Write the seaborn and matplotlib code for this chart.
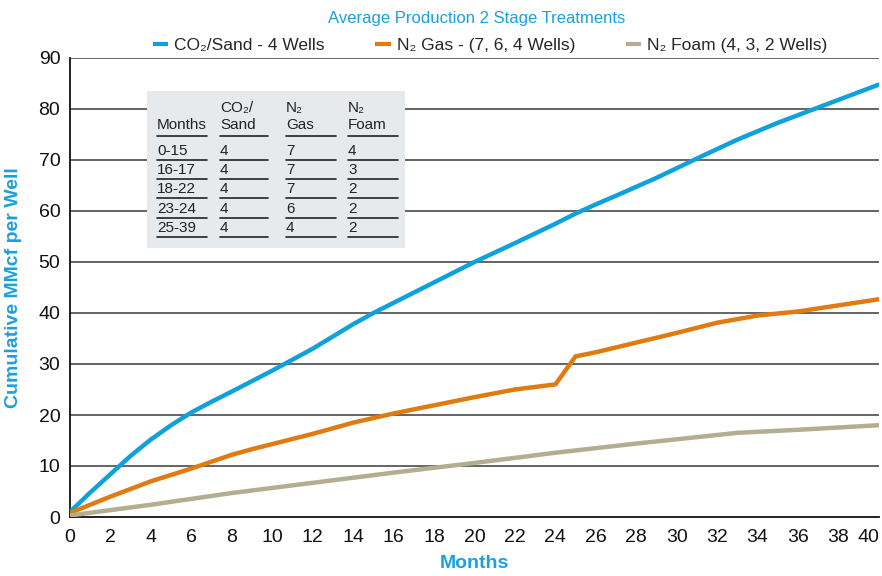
import numpy as np
import pandas as pd
import matplotlib
matplotlib.use("Agg")
import matplotlib.pyplot as plt
from matplotlib.lines import Line2D
from matplotlib.patches import Rectangle
import seaborn as sns

# ---- data ----
co2_months = [0, 1, 2, 3, 4, 5, 6, 7, 8, 10, 12, 14, 15, 16, 18, 20, 22, 24, 25, 26, 27, 29, 31, 33, 35, 36, 38, 40]
co2_values = [1, 4.8, 8.4, 12, 15.2, 18, 20.5, 22.6, 24.6, 28.7, 33, 37.8, 40, 42, 46, 50, 53.7, 57.5, 59.5, 61.3, 63, 66.5, 70.3, 74, 77.3, 78.8, 81.8, 84.8]

n2gas_months = [0, 2, 4, 6, 8, 9, 10, 12, 14, 16, 18, 20, 22, 24, 25, 26, 28, 30, 32, 34, 36, 38, 40]
n2gas_values = [0.8, 4, 7, 9.5, 12.2, 13.3, 14.3, 16.3, 18.5, 20.3, 21.9, 23.5, 25, 26, 31.5, 32.3, 34.2, 36.1, 38.1, 39.5, 40.3, 41.5, 42.7]

n2foam_months = [0, 4, 8, 10, 16, 20, 24, 28, 33, 36, 40]
n2foam_values = [0.3, 2.4, 4.7, 5.7, 8.7, 10.6, 12.6, 14.4, 16.5, 17.1, 18]

series_labels = ["CO\u2082/Sand - 4 Wells", "N\u2082 Gas - (7, 6, 4 Wells)", "N\u2082 Foam (4, 3, 2 Wells)"]
series_colors = ["#0ea1dc", "#e07b12", "#b4ae90"]

x_ticks = list(range(0, 41, 2))
y_ticks = list(range(0, 91, 10))

table_header1 = ["", "CO\u2082/", "N\u2082", "N\u2082"]
table_header2 = ["Months", "Sand", "Gas", "Foam"]
table_months = ["0-15", "16-17", "18-22", "23-24", "25-39"]
table_co2 = ["4", "4", "4", "4", "4"]
table_n2gas = ["7", "7", "7", "6", "4"]
table_n2foam = ["4", "3", "2", "2", "2"]

df = pd.concat([
    pd.DataFrame({"Months": co2_months, "Value": co2_values, "Series": series_labels[0]}),
    pd.DataFrame({"Months": n2gas_months, "Value": n2gas_values, "Series": series_labels[1]}),
    pd.DataFrame({"Months": n2foam_months, "Value": n2foam_values, "Series": series_labels[2]}),
])

# ---- style ----
sns.set_theme(style="white")
FONT = ["Liberation Sans", "DejaVu Sans"]
plt.rcParams["font.family"] = FONT
BLUE_TXT = "#1aa0dc"

W, H = 882, 576
fig = plt.figure(figsize=(W / 100, H / 100), dpi=100)
fig.patch.set_facecolor("white")
L, R, T, B = 70, 879, 58, 517
ax = fig.add_axes([L / W, 1 - B / H, (R - L) / W, (B - T) / H])

sns.lineplot(data=df, x="Months", y="Value", hue="Series", palette=series_colors,
             hue_order=series_labels, linewidth=3.2, ax=ax, legend=False, zorder=3,
             sort=False)

ax.set_xlim(0, 40)
ax.set_ylim(0, 90)
ax.set_xticks(x_ticks)
ax.set_yticks(y_ticks)
ax.tick_params(axis="both", length=0, labelsize=14, colors="#111111")
ax.tick_params(axis="x", pad=9)
ax.tick_params(axis="y", pad=7)
xl = ax.get_xticklabels()
xl[-1].set_horizontalalignment("right")
xl[-1].set_x(40.15)
for yv in y_ticks[1:]:
    ax.axhline(yv, color="#3a3a3a", lw=1.1, zorder=1)
for s in ["top", "right"]:
    ax.spines[s].set_visible(False)
for s in ["left", "bottom"]:
    ax.spines[s].set_color("#111111")
    ax.spines[s].set_linewidth(1.3)

ax.set_xlabel("Months", color=BLUE_TXT, fontsize=14, fontweight="bold", labelpad=6)
ax.set_ylabel("Cumulative MMcf per Well", color=BLUE_TXT, fontsize=14, fontweight="bold", labelpad=12)

# title
fig.text(477 / W, 1 - 18 / H, "Average Production 2 Stage Treatments", color=BLUE_TXT,
         fontsize=12, ha="center", va="center")

# legend
handles = [Line2D([0], [0], color=c, lw=3, solid_capstyle="butt") for c in series_colors]
leg = fig.legend(handles, series_labels, loc="center", bbox_to_anchor=(490 / W, 1 - 45 / H),
                 ncol=3, frameon=False, fontsize=12.5, handlelength=0.9, handletextpad=0.35,
                 columnspacing=2.9)

# table inset
def fx(x):
    return x / W

def fy(y):
    return 1 - y / H

fig.patches.append(Rectangle((fx(147), fy(248)), (405 - 147) / W, (248 - 91) / H,
                             transform=fig.transFigure, facecolor="#e6eaec",
                             edgecolor="none", zorder=2))
col_x = [157, 220, 286, 348]
col_w = [50, 48, 50, 50]
tsize = 11
for i in range(4):
    fig.text(fx(col_x[i]), fy(108), table_header1[i], fontsize=tsize, ha="left", va="center",
             color="#222222", zorder=3)
    fig.text(fx(col_x[i]), fy(125), table_header2[i], fontsize=tsize, ha="left", va="center",
             color="#222222", zorder=3)
    fig.lines.append(Line2D([fx(col_x[i]), fx(col_x[i] + col_w[i])], [fy(136), fy(136)],
                            transform=fig.transFigure, color="#222222", lw=1.2, zorder=3))
row_y = [151, 170, 189, 209, 228]
cols = [table_months, table_co2, table_n2gas, table_n2foam]
for r in range(len(table_months)):
    for i in range(4):
        fig.text(fx(col_x[i]), fy(row_y[r]), cols[i][r], fontsize=tsize, ha="left",
                 va="center", color="#222222", zorder=3)
        fig.lines.append(Line2D([fx(col_x[i]), fx(col_x[i] + col_w[i])],
                                [fy(row_y[r] + 9), fy(row_y[r] + 9)],
                                transform=fig.transFigure, color="#222222", lw=1.2, zorder=3))

fig.savefig("out.png", dpi=100, facecolor="white")
